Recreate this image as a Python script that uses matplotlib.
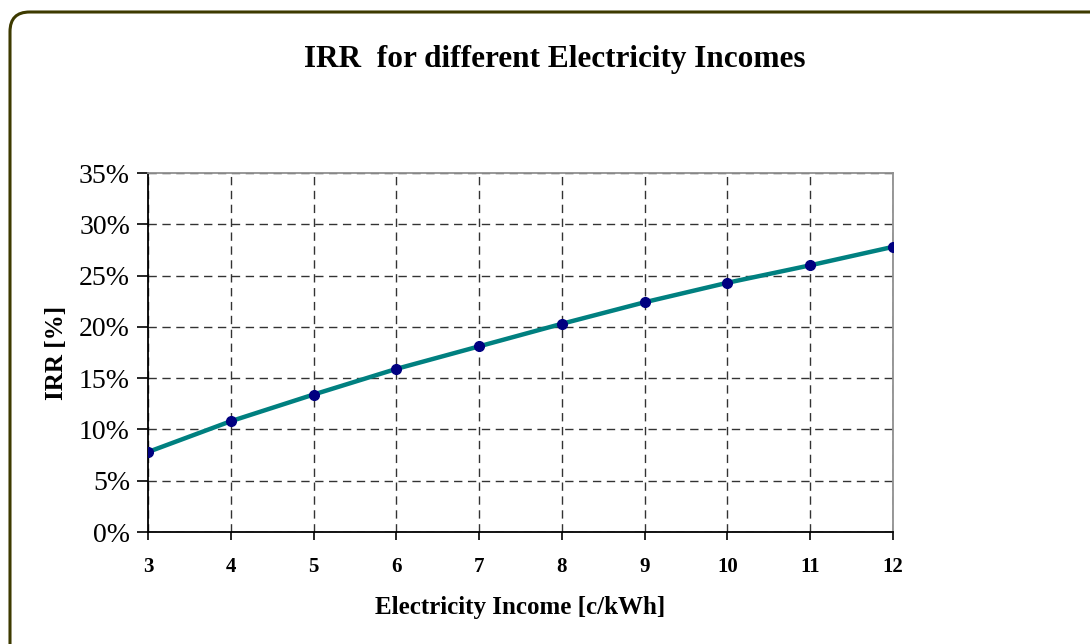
import matplotlib
matplotlib.use('Agg')
import matplotlib.pyplot as plt
from matplotlib.patches import FancyBboxPatch
from matplotlib.ticker import FuncFormatter

# Electricity income (c/kWh) vs internal rate of return (%)
income = [3, 4, 5, 6, 7, 8, 9, 10, 11, 12]
irr = [7.8, 10.8, 13.4, 15.9, 18.1, 20.3, 22.4, 24.3, 26.0, 27.8]

plt.rcParams['font.family'] = ['Liberation Serif', 'DejaVu Serif']

fig = plt.figure(figsize=(10.9, 6.44), dpi=100)

# Rounded frame around the whole chart
frame = FancyBboxPatch((10 / 1090, -0.2), 1.2, (632 / 644) + 0.2,
                       boxstyle='round,pad=0,rounding_size=0.018',
                       transform=fig.transFigure, facecolor='white',
                       edgecolor='#3d3a00', linewidth=2.2, zorder=-10,
                       mutation_aspect=1090 / 644)
fig.patches.append(frame)

ax = fig.add_axes([148 / 1090, 112 / 644, 745 / 1090, 359 / 644])
ax.set_facecolor('none')
ax.set_zorder(5)

ax.plot(income, irr, color='#008080', linewidth=3.2, zorder=3,
        marker='o', markersize=7, markerfacecolor='#000080',
        markeredgecolor='#000080')

ax.set_xlim(3, 12)
ax.set_ylim(0, 35)
ax.set_xticks(income)
ax.set_yticks(range(0, 36, 5))
ax.yaxis.set_major_formatter(FuncFormatter(lambda v, p: f'{v:.0f}%'))

ax.grid(True, color='#333333', linestyle=(0, (6, 4)), linewidth=1.0)
ax.set_axisbelow(True)

for side in ['top', 'right']:
    ax.spines[side].set_color('#909090')
    ax.spines[side].set_linewidth(1.3)
for side in ['left', 'bottom']:
    ax.spines[side].set_color('black')
    ax.spines[side].set_linewidth(1.3)

ax.tick_params(axis='y', direction='out', length=8, width=1.2, pad=5,
               labelsize=20)
ax.tick_params(axis='x', direction='out', length=6, width=1.2, pad=12,
               labelsize=15)
for lbl in ax.get_xticklabels():
    lbl.set_fontweight('bold')

ax.set_xlabel('Electricity Income [c/kWh]', fontsize=18, fontweight='bold',
              labelpad=14)
ax.set_ylabel('IRR [%]', fontsize=18, fontweight='bold', labelpad=8)

fig.text(555 / 1090, 1 - 60 / 644, 'IRR  for different Electricity Incomes',
         ha='center', va='center', fontsize=22.5, fontweight='bold')

fig.savefig('out.png', dpi=100)
